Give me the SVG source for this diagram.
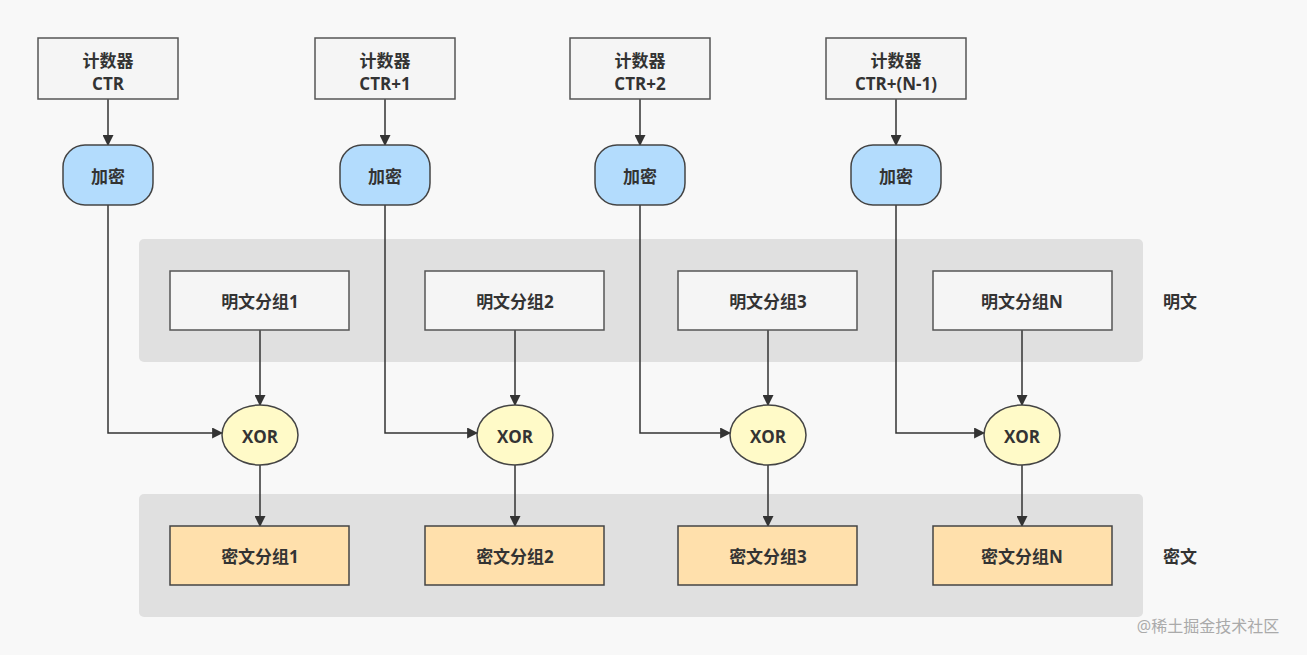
<svg xmlns="http://www.w3.org/2000/svg" width="1307" height="655" viewBox="0 0 1307 655">
<defs>
<style>
text{font-family:"Open Sans","Noto Sans CJK SC",sans-serif;font-weight:bold;font-size:17px;fill:#333;text-anchor:middle;dominant-baseline:central}
.ctr{fill:#f5f5f5;stroke:#555;stroke-width:1.5}
.enc{fill:#b3dcfd;stroke:#444;stroke-width:1.5}
.xor{fill:#fffac8;stroke:#444;stroke-width:1.5}
.ct{fill:#ffe0ac;stroke:#444;stroke-width:1.5}
.band{fill:#e0e0e0}
.c{fill:none;stroke:#333;stroke-width:1.5;marker-end:url(#a)}
</style>
<marker id="a" viewBox="0 0 10 10" refX="9" refY="5" markerWidth="11" markerHeight="11" markerUnits="userSpaceOnUse" orient="auto"><path d="M0,0L10,5L0,10z" fill="#333"/></marker>
</defs>
<rect width="1307" height="655" fill="#f8f8f8"/>
<rect class="band" x="139" y="239" width="1004" height="123" rx="5"/>
<rect class="band" x="139" y="494" width="1004" height="123" rx="5"/>
<text x="1180" y="301">明文</text>
<text x="1180" y="556">密文</text>
<g id="connectors">
<path class="c" d="M108,99V145"/><path class="c" d="M385,99V145"/><path class="c" d="M640,99V145"/><path class="c" d="M896,99V145"/>
<path class="c" d="M108,205V433H222"/><path class="c" d="M385,205V433H477"/><path class="c" d="M640,205V433H730"/><path class="c" d="M896,205V433H984"/>
<path class="c" d="M260,330V405"/><path class="c" d="M515,330V405"/><path class="c" d="M768,330V405"/><path class="c" d="M1022,330V405"/>
<path class="c" d="M260,465V526"/><path class="c" d="M515,465V526"/><path class="c" d="M768,465V526"/><path class="c" d="M1022,465V526"/>
</g>
<g id="ctr1"><rect class="ctr" x="38" y="38" width="140" height="61"/><text x="108" y="60">计数器</text><text x="108" y="83">CTR</text></g>
<g id="ctr2"><rect class="ctr" x="315" y="38" width="140" height="61"/><text x="385" y="60">计数器</text><text x="385" y="83">CTR+1</text></g>
<g id="ctr3"><rect class="ctr" x="570" y="38" width="140" height="61"/><text x="640" y="60">计数器</text><text x="640" y="83">CTR+2</text></g>
<g id="ctr4"><rect class="ctr" x="826" y="38" width="140" height="61"/><text x="896" y="60">计数器</text><text x="896" y="83">CTR+(N-1)</text></g>
<g id="enc1"><rect class="enc" x="63" y="145" width="90" height="60" rx="22"/><text x="108" y="176">加密</text></g>
<g id="enc2"><rect class="enc" x="340" y="145" width="90" height="60" rx="22"/><text x="385" y="176">加密</text></g>
<g id="enc3"><rect class="enc" x="595" y="145" width="90" height="60" rx="22"/><text x="640" y="176">加密</text></g>
<g id="enc4"><rect class="enc" x="851" y="145" width="90" height="60" rx="22"/><text x="896" y="176">加密</text></g>
<g id="pt1"><rect class="ctr" x="170" y="271" width="179" height="59"/><text x="260" y="301">明文分组1</text></g>
<g id="pt2"><rect class="ctr" x="425" y="271" width="179" height="59"/><text x="515" y="301">明文分组2</text></g>
<g id="pt3"><rect class="ctr" x="678" y="271" width="179" height="59"/><text x="768" y="301">明文分组3</text></g>
<g id="pt4"><rect class="ctr" x="933" y="271" width="179" height="59"/><text x="1022" y="301">明文分组N</text></g>
<g id="xor1"><ellipse class="xor" cx="260" cy="435" rx="38" ry="30"/><text x="260" y="436">XOR</text></g>
<g id="xor2"><ellipse class="xor" cx="515" cy="435" rx="38" ry="30"/><text x="515" y="436">XOR</text></g>
<g id="xor3"><ellipse class="xor" cx="768" cy="435" rx="38" ry="30"/><text x="768" y="436">XOR</text></g>
<g id="xor4"><ellipse class="xor" cx="1022" cy="435" rx="38" ry="30"/><text x="1022" y="436">XOR</text></g>
<g id="ct1"><rect class="ct" x="170" y="526" width="179" height="59"/><text x="260" y="556">密文分组1</text></g>
<g id="ct2"><rect class="ct" x="425" y="526" width="179" height="59"/><text x="515" y="556">密文分组2</text></g>
<g id="ct3"><rect class="ct" x="678" y="526" width="179" height="59"/><text x="768" y="556">密文分组3</text></g>
<g id="ct4"><rect class="ct" x="933" y="526" width="179" height="59"/><text x="1022" y="556">密文分组N</text></g>
<text x="1208" y="626" style="font-weight:normal;font-size:16px;fill:#aaa">@稀土掘金技术社区</text>
</svg>
